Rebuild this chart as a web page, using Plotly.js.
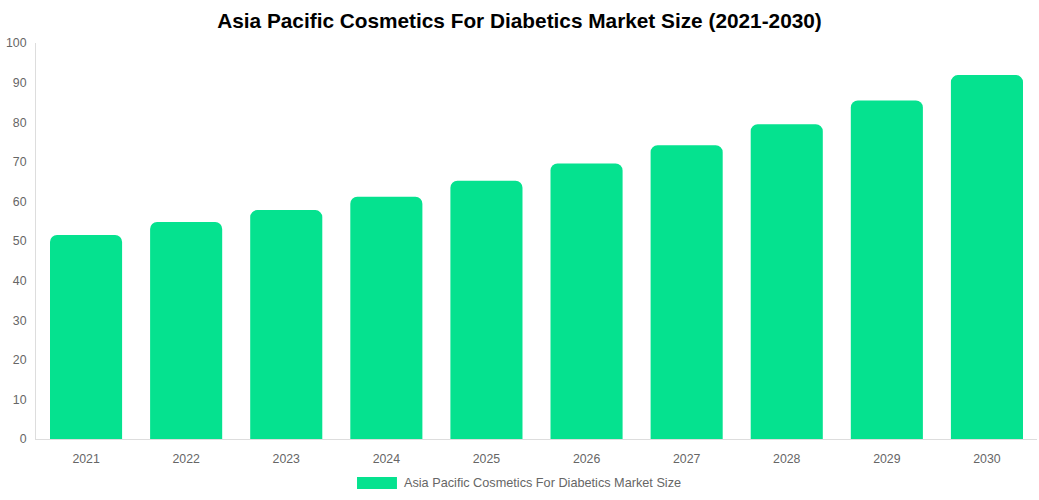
<!DOCTYPE html>
<html>
<head>
<meta charset="utf-8">
<script src="https://cdn.plot.ly/plotly-3.0.1.min.js"></script>
<style>
  html, body { margin: 0; padding: 0; background: #fff; }
  #chart { width: 1039px; height: 500px; }
</style>
</head>
<body>
<div id="chart"></div>
<script>
const years = ['2021', '2022', '2023', '2024', '2025', '2026', '2027', '2028', '2029', '2030']
const marketSize = [51.5, 54.8, 57.8, 61.2, 65.2, 69.6, 74.2, 79.5, 85.5, 91.9]
const seriesName = 'Asia Pacific Cosmetics For Diabetics Market Size'
const chartTitle = 'Asia Pacific Cosmetics For Diabetics Market Size (2021-2030)'
const barColor = '#05E28F'

const data = [{
  type: 'bar',
  x: years,
  y: marketSize,
  name: seriesName,
  marker: { color: barColor, cornerradius: 7 },
  hoverinfo: 'x+y',
  showlegend: false
}]

// legend drawn as a wide swatch + label, like the original
const layout = {
  width: 1039,
  height: 500,
  margin: { l: 36, r: 2, t: 43, b: 61, autoexpand: false },
  paper_bgcolor: '#fff',
  plot_bgcolor: '#fff',
  font: { family: 'Liberation Sans, Arial, sans-serif', size: 12, color: '#666' },
  title: {
    text: '<b>' + chartTitle + '</b>',
    font: { family: 'Liberation Sans, Arial, sans-serif', size: 20.8, color: '#000' },
    x: 0.5,
    xanchor: 'center',
    y: 0.958,
    yanchor: 'middle'
  },
  bargap: 0.28,
  shapes: [{
    type: 'rect',
    xref: 'paper', yref: 'paper',
    x0: 0.3207, x1: 0.3606, y0: -0.096, y1: -0.126,
    fillcolor: barColor,
    line: { width: 0 }
  }],
  annotations: [{
    text: seriesName,
    xref: 'paper', yref: 'paper',
    x: 0.3656, y: -0.111,
    xanchor: 'left', yanchor: 'middle',
    showarrow: false,
    font: { size: 12.7, color: '#666' }
  }],
  xaxis: {
    type: 'category',
    showline: true,
    linecolor: '#ddd',
    linewidth: 1,
    showgrid: false,
    ticks: '',
    ticklabelstandoff: 8,
    tickfont: { size: 12.3, color: '#666' }
  },
  yaxis: {
    range: [0, 100],
    dtick: 10,
    showline: true,
    linecolor: '#ddd',
    linewidth: 1,
    showgrid: false,
    zeroline: false,
    ticks: '',
    ticklabelstandoff: 6,
    tickfont: { size: 12.3, color: '#666' }
  }
}

Plotly.newPlot('chart', data, layout, { displayModeBar: false, staticPlot: true })
</script>
</body>
</html>
